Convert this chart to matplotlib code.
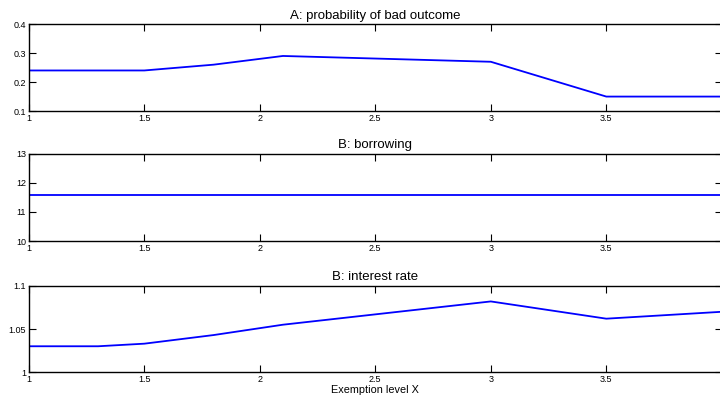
import matplotlib
matplotlib.use("Agg")
import matplotlib.pyplot as plt

# --- dati ---
x_prob = [1.0, 1.5, 1.8, 2.1, 3.0, 3.5, 4.0]
prob_bad = [0.24, 0.24, 0.26, 0.29, 0.27, 0.15, 0.15]

x_borr = [1.0, 4.0]
borrowing = [11.6, 11.6]

x_rate = [1.0, 1.3, 1.5, 1.8, 2.1, 3.0, 3.5, 4.0]
interest = [1.03, 1.03, 1.033, 1.043, 1.055, 1.082, 1.062, 1.07]

xticks = [1, 1.5, 2, 2.5, 3, 3.5]
xticklabels = ["1", "1.5", "2", "2.5", "3", "3.5"]

plt.rcParams["font.family"] = ["Liberation Sans", "DejaVu Sans"]

fig = plt.figure(figsize=(7.2, 4.01), dpi=100)

panels = [
    ([0.040, 0.723, 0.9625, 0.217], x_prob, prob_bad, "A: probability of bad outcome",
     (0.1, 0.4), [0.1, 0.2, 0.3, 0.4], ["0.1", "0.2", "0.3", "0.4"]),
    ([0.040, 0.399, 0.9625, 0.217], x_borr, borrowing, "B: borrowing",
     (10, 13), [10, 11, 12, 13], ["10", "11", "12", "13"]),
    ([0.040, 0.072, 0.9625, 0.215], x_rate, interest, "B: interest rate",
     (1, 1.1), [1, 1.05, 1.1], ["1", "1.05", "1.1"]),
]

for rect, xs, ys, title, ylim, yt, ytl in panels:
    ax = fig.add_axes(rect)
    ax.plot(xs, ys, color="#0000ff", lw=1.3)
    ax.set_xlim(1, 4)
    ax.set_ylim(*ylim)
    ax.set_xticks(xticks)
    ax.set_xticklabels(xticklabels)
    ax.set_yticks(yt)
    ax.set_yticklabels(ytl)
    ax.tick_params(direction="in", top=True, right=True, length=5, width=0.8,
                   labelsize=6.5, pad=2)
    for s in ax.spines.values():
        s.set_linewidth(1.0)
    ax.set_title(title, fontsize=9.5, pad=4)

ax.set_xlabel("Exemption level X", fontsize=7.8, labelpad=1)

fig.savefig("out.png", dpi=100)
